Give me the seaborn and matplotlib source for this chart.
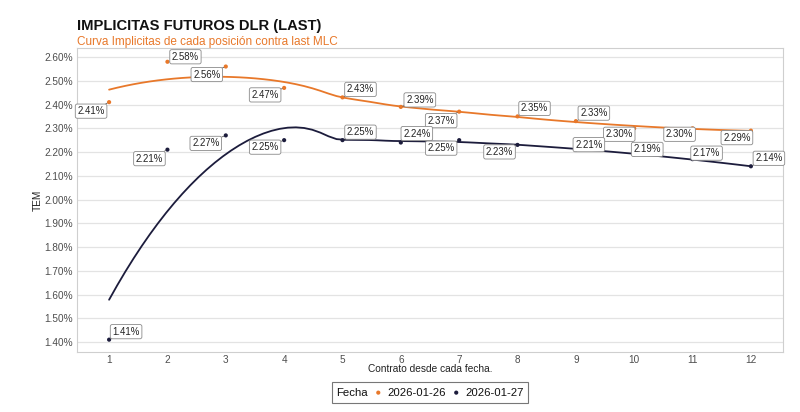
import numpy as np
import pandas as pd
import matplotlib
matplotlib.use("Agg")
import matplotlib.pyplot as plt
import seaborn as sns
from matplotlib.patches import Circle
from matplotlib.offsetbox import HPacker, TextArea, DrawingArea, AnchoredOffsetbox
from matplotlib.ticker import FuncFormatter, FixedLocator

# ---------------- data ----------------
contratos = [1, 2, 3, 4, 5, 6, 7, 8, 9, 10, 11, 12]
fechas = ["2026-01-26", "2026-01-27"]
tem_2026_01_26 = [2.41, 2.58, 2.56, 2.47, 2.43, 2.39, 2.37, 2.35, 2.33, 2.30, 2.30, 2.29]
tem_2026_01_27 = [1.41, 2.21, 2.27, 2.25, 2.25, 2.24, 2.25, 2.23, 2.21, 2.19, 2.17, 2.14]
y_ticks = [1.40, 1.50, 1.60, 1.70, 1.80, 1.90, 2.00, 2.10, 2.20, 2.30, 2.40, 2.50, 2.60]
x_ticks = contratos

titulo = "IMPLICITAS FUTUROS DLR (LAST)"
subtitulo = "Curva Implicitas de cada posición contra last MLC"
x_label = "Contrato desde cada fecha."
y_label = "TEM"
legend_title = "Fecha"

# label offsets (pixels: right, down) for the repelled labels
off_26 = [(-18, 9), (18, -5), (-19, 8), (-19, 7), (18, -8), (19, -7),
          (-18, 9), (17, -8), (18, -8), (-15, 6), (-13, 6), (-14, 7)]
off_27 = [(17, -8), (-18, 9), (-20, 8), (-19, 7), (18, -8), (16, -9),
          (-18, 8), (-18, 7), (13, -5), (13, -5), (14, -6), (18, -8)]

ORANGE = "#E8782A"
NAVY = "#1C1C3C"
palette = {fechas[0]: ORANGE, fechas[1]: NAVY}

df = pd.DataFrame({
    "Contrato": contratos * 2,
    "TEM": tem_2026_01_26 + tem_2026_01_27,
    "Fecha": [fechas[0]] * len(contratos) + [fechas[1]] * len(contratos),
})


def loess(x, y, grid, span=0.75, degree=2):
    x = np.asarray(x, float)
    y = np.asarray(y, float)
    n = len(x)
    q = int(np.floor(n * span))
    res = []
    for g in grid:
        d = np.abs(x - g)
        h = np.sort(d)[q - 1]
        w = np.clip(1 - (d / h) ** 3, 0, None) ** 3
        X = np.vander(x - g, degree + 1, increasing=True)
        sw = np.sqrt(w)
        beta, *_ = np.linalg.lstsq(X * sw[:, None], y * sw, rcond=None)
        res.append(beta[0])
    return np.array(res)


grid = np.linspace(min(contratos), max(contratos), 80)
smooth_parts = []
for f in fechas:
    sub = df[df["Fecha"] == f]
    smooth_parts.append(pd.DataFrame({
        "Contrato": grid,
        "TEM": loess(sub["Contrato"], sub["TEM"], grid),
        "Fecha": f,
    }))
smooth = pd.concat(smooth_parts, ignore_index=True)

# ---------------- plot ----------------
sns.set_theme(style="white")
plt.rcParams["font.family"] = ["Liberation Sans", "DejaVu Sans"]

fig = plt.figure(figsize=(8.0, 4.12), dpi=100)
ax = fig.add_axes([0.09625, 0.1456, 0.8825, 0.7379])

sns.lineplot(data=smooth, x="Contrato", y="TEM", hue="Fecha", palette=palette,
             linewidth=1.3, ax=ax, legend=False, estimator=None, sort=True)
sns.scatterplot(data=df, x="Contrato", y="TEM", hue="Fecha", palette=palette,
                s=9, linewidth=0, ax=ax, legend=False, zorder=3)

for vals, offs in [(tem_2026_01_26, off_26), (tem_2026_01_27, off_27)]:
    for xv, yv, (dx, dy) in zip(contratos, vals, offs):
        ax.annotate(f"{yv:.2f}%", xy=(xv, yv), xytext=(dx, -dy),
                    textcoords="offset pixels", ha="center", va="center",
                    fontsize=6.9, color="#222222", zorder=5,
                    bbox=dict(boxstyle="round,pad=0.22,rounding_size=0.2",
                              fc="white", ec="#8a8a8a", lw=0.6),
                    arrowprops=dict(arrowstyle="-", color="#444444", lw=0.5,
                                    shrinkA=0, shrinkB=1.5))

ax.set_xlim(0.45, 12.55)
ax.set_ylim(1.358, 2.638)
ax.xaxis.set_major_locator(FixedLocator(x_ticks))
ax.yaxis.set_major_locator(FixedLocator(y_ticks))
ax.yaxis.set_major_formatter(FuncFormatter(lambda v, p: f"{v:.2f}%"))
ax.tick_params(axis="both", length=0, labelsize=7.2, labelcolor="#4d4d4d")
ax.tick_params(axis="y", pad=3)
ax.tick_params(axis="x", pad=2.2)
ax.yaxis.grid(True, color="#e3e3e3", lw=0.9)
ax.xaxis.grid(False)
for sp in ax.spines.values():
    sp.set_color("#cfcfcf")
    sp.set_linewidth(0.8)
ax.set_xlabel(x_label, fontsize=7.3, color="#222222", labelpad=-0.5)
ax.set_ylabel(y_label, fontsize=7.3, color="#222222", labelpad=1.0)

fig.text(0.09625, 0.927, titulo, fontsize=10.6, fontweight="bold",
         color="#111111", va="baseline", ha="left")
fig.text(0.09625, 0.891, subtitulo, fontsize=8.5, color=ORANGE,
         va="baseline", ha="left")

# legend: title inline, dots + labels (ggplot bottom legend style)
leg_fs = 8.2
items = [TextArea(legend_title, textprops=dict(fontsize=leg_fs, color="#111111"))]
for f in fechas:
    da = DrawingArea(8, 8, 0, 0)
    da.add_artist(Circle((4, 4), 1.5, color=palette[f], lw=0))
    items.append(HPacker(children=[da, TextArea(f, textprops=dict(fontsize=leg_fs, color="#111111"))],
                         pad=0, sep=2.5, align="center"))
box = HPacker(children=items, pad=0, sep=3.5, align="center")
anchored = AnchoredOffsetbox(loc="center", child=box, pad=0.3, borderpad=0,
                             frameon=True, bbox_to_anchor=(0.5375, 0.047),
                             bbox_transform=fig.transFigure)
anchored.patch.set_edgecolor("#777777")
anchored.patch.set_linewidth(0.8)
anchored.patch.set_boxstyle("square", pad=0)
fig.add_artist(anchored)

fig.savefig("out.png", dpi=100)
